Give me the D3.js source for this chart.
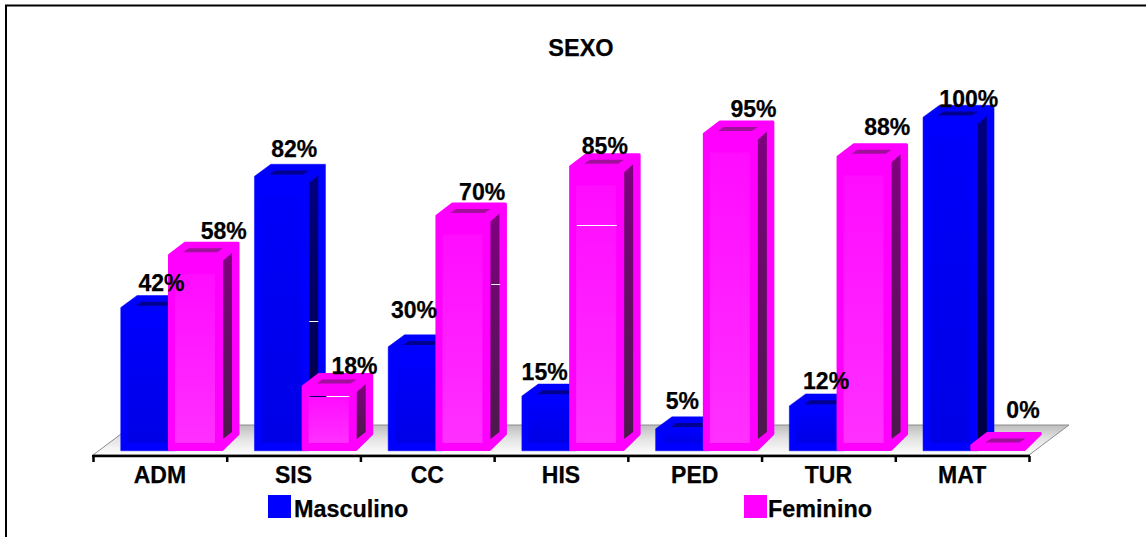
<!DOCTYPE html>
<html><head><meta charset="utf-8">
<script src="https://cdn.jsdelivr.net/npm/d3@7"></script>
<style>html,body{margin:0;padding:0;background:#fff}svg{display:block}text{font-family:"Liberation Sans",Arial,sans-serif;font-weight:bold;fill:#000;stroke:#000;stroke-width:.25px}</style>
</head><body><svg id="c" width="1146" height="537"></svg>
<script>
const categories = ["ADM","SIS","CC","HIS","PED","TUR","MAT"];
const masculino = [42,82,30,15,5,12,100];
const feminino  = [58,18,70,85,95,88,0];
const seriesNames = ["Masculino","Feminino"];
const chartTitle = "SEXO";

// hand-placed data label offsets of the original chart (from bar left, from bar top)
const labelDxM = [41,40,26,23,27,37,46];
const labelDyM = [-16,-19,-29,-16,-20,-17,-10];
const labelDxF = [55,52,46,35,50,50,52];
const labelDyF = [-16,-12,-15,-12,-16,-21,-27];

// thin render artefacts on the bars: category, series, value level
const streakCats   = ["SIS","SIS","CC","HIS"];
const streakSeries = ["m","f","f","f"];
const streakLevels = [37.8,15,49,67];

const W=1146,H=537, svg=d3.select("#c");
const axisL=93, axisR=1029, axisY=456;
const x=d3.scaleBand().domain(categories).range([axisL,axisR]);
const xEdge=d3.scaleLinear().domain([0,categories.length]).range([axisL,axisR]);
const y=d3.scaleLinear().domain([0,100]).range([445,117]);
const barW=55, depthX=16.5, depthY=12, barBase=451, barOff=27.5, pinkOff=75.7;

const defs=svg.append("defs");
function grad(id,stops){
  const g=defs.append("linearGradient").attr("id",id).attr("x1",0).attr("y1",0).attr("x2",0).attr("y2",1);
  stops.forEach(s=>g.append("stop").attr("offset",s[0]).attr("stop-color",s[1]));
}
grad("floor",[[0,"#bdbdbd"],[0.45,"#e2e2e2"],[1,"#ffffff"]]);
grad("sideM",[[0,"#000080"],[1,"#000040"]]);
grad("sideF",[[0,"#800080"],[1,"#4a1a4a"]]);
grad("innerM",[[0,"#0000fa"],[1,"#0000e6"]]);
grad("innerF",[[0,"#ff0cff"],[1,"#ff30ff"]]);

// frame
svg.append("path").attr("d",`M6,${H} V5.5 H${W}`).attr("fill","none").attr("stroke","#000").attr("stroke-width",2);

// floor
svg.append("polygon")
  .attr("points",[[axisL,455],[axisL+40,425],[1069,425],[axisR,455]].join(" "))
  .attr("fill","url(#floor)").attr("stroke","#8c8c8c").attr("stroke-width",1);

const line=d3.line();
function bar(g,bx,v,o){
  const T=y(v)-o.lift, x1=bx+barW, i=o.inset;
  // silhouette
  g.append("path").attr("d",line([[bx+i,T+i],[bx+depthX+i*.5,T-depthY+i],[x1+depthX-i,T-depthY+i],[x1+depthX-i,barBase-17],[x1-i*.5,barBase-i],[bx+i,barBase-i]])+"Z")
    .attr("fill",o.main).attr("stroke",o.main).attr("stroke-width",i*2).attr("stroke-linejoin","round");
  // inner front panel
  const innerTop=T+Math.min(20,(445-T)*0.2);
  if(barBase-8>innerTop+6) g.append("rect").attr("x",bx+7).attr("y",innerTop).attr("width",barW-15).attr("height",barBase-8-innerTop).attr("fill",`url(#${o.inner})`);
  // side
  const sT=T+7, sB=439;
  if(sB>sT+8) g.append("path").attr("d",line([[x1,sT],[x1+9,T-1],[x1+9,sB-7],[x1,sB]])+"Z").attr("fill",`url(#${o.side})`);
  // top
  g.append("path").attr("d",line([[bx+15,T-1.5],[bx+21,T-5.5],[bx+55,T-5.5],[bx+49,T-1.5]])+"Z").attr("fill",o.top);
}
const mStyle={main:"#0000ff",inner:"innerM",side:"sideM",top:"#000090",inset:0.25,lift:0};
const fStyle={main:"#ff00ff",inner:"innerF",side:"sideF",top:"#a0109c",inset:1.5,lift:1};

categories.forEach((c,i)=>{
  const g=svg.append("g");
  bar(g,x(c)+barOff,masculino[i],mStyle);
  bar(g,x(c)+pinkOff-.7,feminino[i],fStyle);
});

// streaks
streakCats.forEach((c,i)=>{
  const fem=streakSeries[i]==="f", yy=Math.round(y(streakLevels[i]))+.5;
  if(!fem){
    const a=x(c)+barOff+barW;
    svg.append("line").attr("x1",a).attr("x2",a+9).attr("y1",yy).attr("y2",yy).attr("stroke","#fff");
  } else if(c==="CC"){
    const a=x(c)+pinkOff+barW;
    svg.append("line").attr("x1",a).attr("x2",a+9).attr("y1",yy).attr("y2",yy).attr("stroke","#fff");
  } else {
    const a=x(c)+pinkOff+7;
    svg.append("line").attr("x1",a).attr("x2",a+40).attr("y1",yy).attr("y2",yy).attr("stroke","#fff");
    if(c==="SIS"){
      svg.append("line").attr("x1",a).attr("x2",a+17).attr("y1",yy).attr("y2",yy).attr("stroke","#000060");
    }
  }
});

// axis
const axis=d3.axisBottom(xEdge).tickValues(d3.range(categories.length+1)).tickFormat("").tickSize(6).tickSizeOuter(0);
const ag=svg.append("g").attr("transform",`translate(0,${axisY})`).call(axis);
ag.selectAll("path,line").attr("stroke","#000").attr("stroke-width",2.5);
ag.select("path").attr("d",`M${axisL-1},0H${axisR+1}`);

svg.append("g").selectAll("text").data(categories).join("text")
  .attr("x",d=>x(d)+x.bandwidth()/2).attr("y",483).attr("text-anchor","middle")
  .style("font-size","23px").text(d=>d);

// data labels
categories.forEach((c,i)=>{
  svg.append("text").attr("x",x(c)+barOff+labelDxM[i]).attr("y",y(masculino[i])+labelDyM[i])
    .attr("text-anchor","middle").style("font-size","23px").text(masculino[i]+"%");
  svg.append("text").attr("x",x(c)+pinkOff+labelDxF[i]).attr("y",y(feminino[i])+labelDyF[i])
    .attr("text-anchor","middle").style("font-size","23px").text(feminino[i]+"%");
});

svg.append("text").attr("x",581).attr("y",56).attr("text-anchor","middle").style("font-size","23.5px").text(chartTitle);

// legend
[[268,"#0000ff"],[744,"#ff00ff"]].forEach((d,i)=>{
  svg.append("rect").attr("x",d[0]).attr("y",495).attr("width",23).attr("height",23).attr("fill",d[1]);
  svg.append("text").attr("x",d[0]+(i?24:26)).attr("y",517).style("font-size","23.4px").text(seriesNames[i]);
});
</script></body></html>
